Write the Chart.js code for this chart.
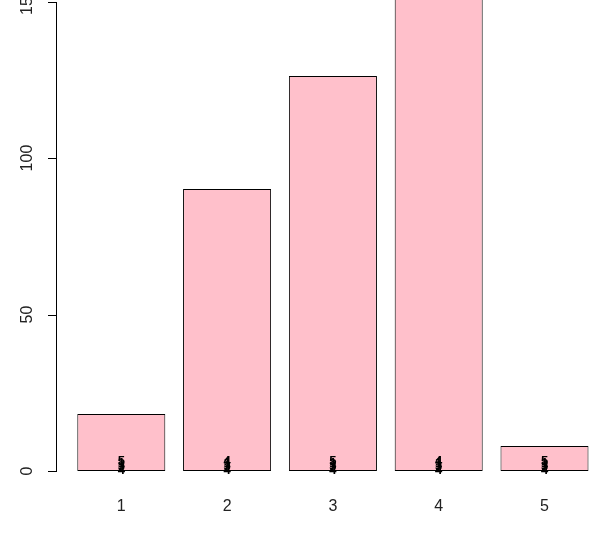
<!DOCTYPE html>
<html>
<head>
<meta charset="utf-8">
<script src="https://cdn.jsdelivr.net/npm/chart.js@4"></script>
<style>
  body { margin: 0; background: #fff; }
  #wrap { width: 602px; height: 533px; }
</style>
</head>
<body>
<div id="wrap"><canvas id="chart" width="602" height="533"></canvas></div>
<script>
// values
const categories = [1, 2, 3, 4, 5];
const categoryLabels = ['1', '2', '3', '4', '5'];
const heights = [18.2, 90.1, 126.2, 160, 8.0];
const yTicks = [0, 50, 100, 150];
// the small overlapping digits printed at the foot of each bar
const footDigits = [
  ['4', '2', '3', '1', '5'],
  ['4', '2', '3', '1', '4'],
  ['4', '2', '3', '1', '5'],
  ['4', '2', '3', '1', '4'],
  ['4', '2', '3', '1', '5']
];
const footLevels = [0.15, 0.9, 1.6, 2.3, 3.0];

const FONT = '"Liberation Sans", Arial, sans-serif';

// R style left axis: line between first and last tick, tick marks, rotated labels
const yAxisPlugin = {
  id: 'yAxisR',
  afterDatasetsDraw(chart) {
    const ctx = chart.ctx;
    const y = chart.scales.y;
    const x0 = Math.round(chart.chartArea.left);
    const top = Math.round(y.getPixelForValue(yTicks[yTicks.length - 1]));
    const bottom = Math.round(y.getPixelForValue(yTicks[0]));
    ctx.save();
    ctx.fillStyle = '#000';
    ctx.fillRect(x0, top, 1, bottom - top + 1);
    y.ticks.forEach(t => {
      const py = Math.round(y.getPixelForValue(t.value));
      ctx.fillRect(x0 - 8, py, 9, 1);
    });

    ctx.fillStyle = '#222';
    ctx.font = '16px ' + FONT;
    ctx.textAlign = 'center';
    ctx.textBaseline = 'middle';
    y.ticks.forEach(t => {
      const py = y.getPixelForValue(t.value);
      ctx.save();
      ctx.translate(28, py);
      ctx.rotate(-Math.PI / 2);
      ctx.fillText(String(t.value), 0, 0);
      ctx.restore();
    });
    ctx.restore();
  }
};

const footPlugin = {
  id: 'footDigits',
  afterDatasetsDraw(chart) {
    const ctx = chart.ctx;
    const xs = chart.scales.x, ys = chart.scales.y;
    ctx.save();
    ctx.fillStyle = '#000';
    ctx.font = 'bold 13px ' + FONT;
    ctx.textAlign = 'center';
    ctx.textBaseline = 'middle';
    categories.forEach((c, i) => {
      const px = xs.getPixelForValue(c);
      footDigits[i].forEach((d, j) => {
        ctx.fillText(d, px, ys.getPixelForValue(footLevels[j]));
      });
    });
    ctx.restore();
  }
};

new Chart(document.getElementById('chart'), {
  type: 'bar',
  data: {
    datasets: [{
      data: categories.map((c, i) => ({ x: c, y: heights[i] })),
      backgroundColor: '#FFC0CB',
      borderColor: '#000',
      borderWidth: 1,
      borderSkipped: false,
      categoryPercentage: 1,
      barPercentage: 0.8318
    }]
  },
  options: {
    responsive: false,
    animation: false,
    layout: { padding: 0 },
    plugins: { legend: { display: false }, tooltip: { enabled: false } },
    scales: {
      x: {
        type: 'linear',
        offset: false,
        min: 0.3828,
        max: 5.5435,
        afterBuildTicks(scale) {
          scale.ticks = categories.map(v => ({ value: v }));
        },
        afterFit(scale) { scale.height = 62; },
        grid: { display: false, offset: false },
        border: { display: false },
        ticks: {
          padding: 18,
          color: '#222',
          font: { family: FONT, size: 16 },
          callback: (v) => categoryLabels[categories.indexOf(v)]
        }
      },
      y: {
        min: 0,
        max: 150.5,
        afterBuildTicks(scale) {
          scale.ticks = yTicks.map(v => ({ value: v }));
        },
        afterFit(scale) { scale.width = 56; },
        grid: { display: false },
        border: { display: false },
        ticks: { display: false }
      }
    }
  },
  plugins: [yAxisPlugin, footPlugin]
});
</script>
</body>
</html>
